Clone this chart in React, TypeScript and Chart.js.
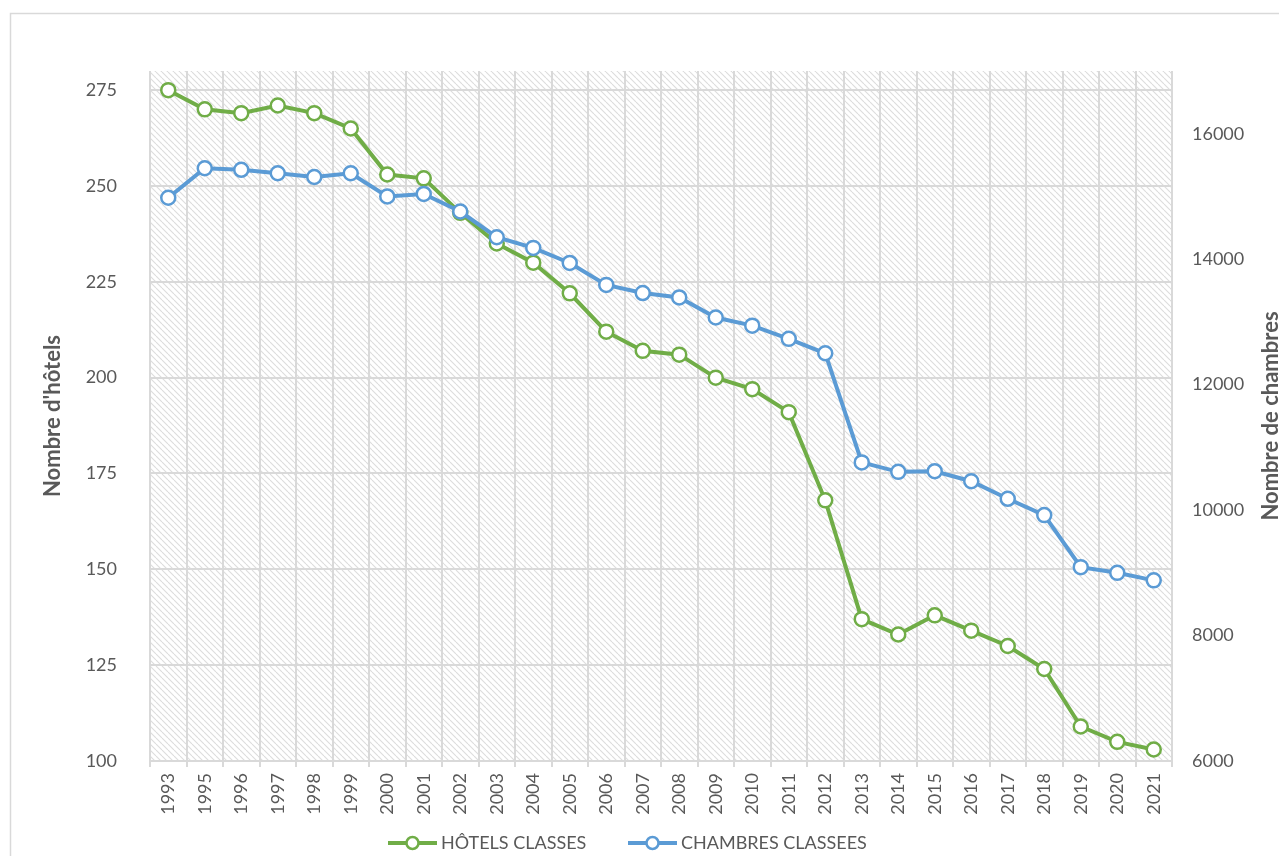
import React, { useEffect, useRef } from "react";
import { Chart, registerables } from "chart.js";

Chart.register(...registerables);

const years = [
  "1993", "1995", "1996", "1997", "1998", "1999", "2000", "2001", "2002", "2003",
  "2004", "2005", "2006", "2007", "2008", "2009", "2010", "2011", "2012", "2013",
  "2014", "2015", "2016", "2017", "2018", "2019", "2020", "2021",
];

const hotels = [
  275, 270, 269, 271, 269, 265, 253, 252, 243, 235,
  230, 222, 212, 207, 206, 200, 197, 191, 168, 137,
  133, 138, 134, 130, 124, 109, 105, 103,
];

const rooms = [
  14980, 15450, 15425, 15370, 15310, 15370, 15000, 15040, 14760, 14350,
  14180, 13940, 13590, 13460, 13390, 13070, 12940, 12730, 12500, 10760,
  10610, 10620, 10460, 10180, 9920, 9090, 9000, 8880,
];

const leftTicks = [100, 125, 150, 175, 200, 225, 250, 275];
const rightTicks = [6000, 8000, 10000, 12000, 14000, 16000];

const labelHotels = "HÔTELS CLASSES";
const labelRooms = "CHAMBRES CLASSEES";
const titleLeft = "Nombre d'hôtels";
const titleRight = "Nombre de chambres";

const GREEN = "#70AD47";
const BLUE = "#5B9BD5";
const TEXT = "#595959";
const GRID = "#d9d9d9";
const FONT = "Lato, 'Open Sans', sans-serif";

const W = 1279;
const H = 856;

const decorPlugin = {
  id: "decor",
  beforeDraw(chart: any) {
    const { ctx, chartArea: a } = chart;
    ctx.save();
    ctx.fillStyle = "#ffffff";
    ctx.fillRect(0, 0, chart.width, chart.height);
    ctx.strokeStyle = GRID;
    ctx.lineWidth = 1.5;
    ctx.strokeRect(10.5, 13.5, 1400, 1000);
    const tile = document.createElement("canvas");
    tile.width = 6;
    tile.height = 6;
    const t = tile.getContext("2d")!;
    t.strokeStyle = "#dcdcdc";
    t.lineWidth = 1.1;
    for (const k of [-6, 0, 6]) {
      t.beginPath();
      t.moveTo(k, 0);
      t.lineTo(k + 6, 6);
      t.stroke();
    }
    const pat = ctx.createPattern(tile, "repeat");
    ctx.fillStyle = pat;
    ctx.fillRect(a.left, a.top, a.right - a.left, a.bottom - a.top);
    ctx.restore();
  },
  afterDraw(chart: any) {
    const { ctx, chartArea: a } = chart;
    const cy = (a.top + a.bottom) / 2;
    ctx.save();
    ctx.fillStyle = TEXT;
    ctx.font = `bold 22px ${FONT}`;
    ctx.textAlign = "center";
    ctx.textBaseline = "middle";
    ctx.save();
    ctx.translate(53, cy);
    ctx.rotate(-Math.PI / 2);
    ctx.fillText(titleLeft, 0, 0);
    ctx.restore();
    ctx.save();
    ctx.translate(1271, cy);
    ctx.rotate(-Math.PI / 2);
    ctx.fillText(titleRight, 0, 0);
    ctx.restore();

    // legend
    const items = [
      { color: GREEN, x0: 388, text: labelHotels },
      { color: BLUE, x0: 628, text: labelRooms },
    ];
    const ly = 843;
    ctx.font = `18px ${FONT}`;
    ctx.textAlign = "left";
    for (const it of items) {
      ctx.strokeStyle = it.color;
      ctx.lineWidth = 4;
      ctx.beginPath();
      ctx.moveTo(it.x0, ly);
      ctx.lineTo(it.x0 + 49, ly);
      ctx.stroke();
      ctx.beginPath();
      ctx.arc(it.x0 + 24.5, ly, 6, 0, Math.PI * 2);
      ctx.fillStyle = "#ffffff";
      ctx.fill();
      ctx.lineWidth = 2.5;
      ctx.stroke();
      ctx.fillStyle = TEXT;
      ctx.fillText(it.text, it.x0 + 53, ly);
    }
    ctx.restore();
  },
};

export default function App() {
  const ref = useRef<HTMLCanvasElement | null>(null);

  useEffect(() => {
    if (!ref.current) return;
    const chart = new Chart(ref.current, {
      type: "line",
      data: {
        labels: years,
        datasets: [
          {
            label: labelHotels,
            data: hotels,
            yAxisID: "y",
            borderColor: GREEN,
            backgroundColor: "#ffffff",
            borderWidth: 4,
            pointRadius: 7,
            pointBorderWidth: 2.5,
            pointBackgroundColor: "#ffffff",
            pointBorderColor: GREEN,
            tension: 0,
            order: 2,
          },
          {
            label: labelRooms,
            data: rooms,
            yAxisID: "y1",
            borderColor: BLUE,
            backgroundColor: "#ffffff",
            borderWidth: 4,
            pointRadius: 7,
            pointBorderWidth: 2.5,
            pointBackgroundColor: "#ffffff",
            pointBorderColor: BLUE,
            tension: 0,
            order: 1,
          },
        ],
      },
      options: {
        responsive: false,
        animation: false,
        layout: { padding: { top: 71, left: 0, right: 0, bottom: 0 } },
        plugins: {
          legend: { display: false },
          tooltip: { enabled: false },
          title: { display: false },
        },
        scales: {
          x: {
            offset: true,
            grid: {
              offset: true,
              color: GRID,
              lineWidth: 2,
              drawTicks: true,
              tickLength: 6,
            },
            border: { display: false },
            ticks: {
              autoSkip: false,
              maxRotation: 90,
              minRotation: 90,
              color: TEXT,
              padding: 6,
              font: { family: FONT, size: 18 },
            },
            afterFit: (s: any) => {
              s.height = 95;
            },
          },
          y: {
            position: "left",
            min: 100,
            max: 280,
            grid: { color: GRID, lineWidth: 2, drawTicks: false },
            border: { display: false },
            ticks: {
              color: TEXT,
              padding: 33,
              font: { family: FONT, size: 18 },
              callback: (v: any) => String(v),
            },
            afterBuildTicks: (s: any) => {
              s.ticks = leftTicks.map((v) => ({ value: v }));
            },
            afterFit: (s: any) => {
              s.width = 150;
            },
          },
          y1: {
            position: "right",
            min: 6000,
            max: 17000,
            grid: { display: false, drawTicks: false },
            border: { display: false },
            ticks: {
              color: TEXT,
              padding: 20,
              font: { family: FONT, size: 18 },
              callback: (v: any) => String(v),
            },
            afterBuildTicks: (s: any) => {
              s.ticks = rightTicks.map((v) => ({ value: v }));
            },
            afterFit: (s: any) => {
              s.width = 107;
            },
          },
        },
      },
      plugins: [decorPlugin],
    });
    return () => chart.destroy();
  }, []);

  return (
    <div style={{ position: "absolute", left: 0, top: 0, width: W, height: H }}>
      <canvas ref={ref} width={W} height={H} style={{ display: "block" }} />
    </div>
  );
}
